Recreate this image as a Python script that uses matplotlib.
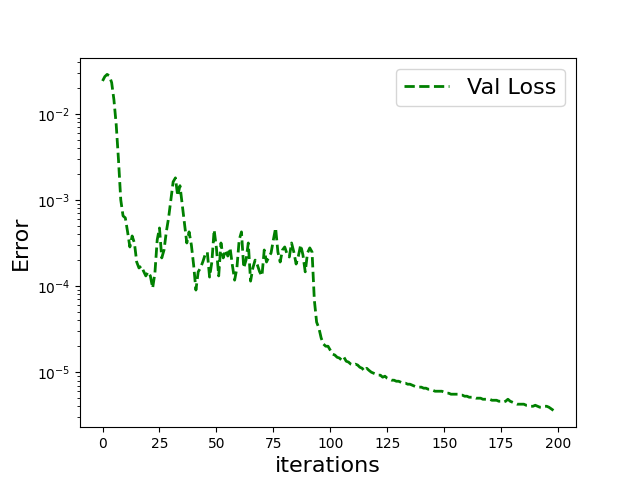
import numpy as np
import matplotlib
matplotlib.use('Agg')
import matplotlib.pyplot as plt

### Data
# iterations 0-40 : initial drop and first bump
loss_start = [2.40e-2, 2.70e-2, 2.86e-2, 2.75e-2, 2.30e-2, 1.45e-2, 7.45e-3, 2.92e-3, 1.0e-3, 6.52e-4,
              6.18e-4, 4.25e-4, 2.84e-4, 3.81e-4, 3.16e-4, 1.90e-4, 1.62e-4, 1.71e-4, 1.49e-4, 1.31e-4,
              1.46e-4, 1.31e-4, 9.48e-5, 1.42e-4, 3.43e-4, 4.72e-4, 2.12e-4, 2.62e-4, 4.25e-4, 6.18e-4,
              1.0e-3, 1.62e-3, 1.80e-3, 1.11e-3, 1.46e-3, 8.75e-4, 5.12e-4, 3.16e-4, 4.25e-4, 3.0e-4,
              1.75e-4]
# iterations 41-92 : noisy plateau
loss_plateau = [8.98e-5, 1.46e-4, 1.62e-4, 1.90e-4, 2.29e-4, 2.48e-4, 1.27e-4, 1.90e-4, 4.48e-4,
                2.77e-4, 1.31e-4, 3.16e-4, 2.12e-4, 2.62e-4, 2.23e-4, 2.77e-4, 1.75e-4, 1.17e-4, 1.62e-4,
                3.43e-4, 4.25e-4, 1.62e-4, 2.0e-4, 3.16e-4, 1.14e-4, 1.62e-4, 2.0e-4, 1.75e-4, 1.46e-4,
                1.31e-4, 2.62e-4, 1.90e-4, 2.17e-4, 2.42e-4, 3.43e-4, 4.72e-4, 2.48e-4, 1.90e-4, 2.62e-4,
                2.84e-4, 2.36e-4, 2.17e-4, 3.16e-4, 2.48e-4, 1.80e-4, 2.23e-4, 3.0e-4, 2.29e-4, 1.46e-4,
                2.42e-4, 2.77e-4, 2.48e-4]
# iterations 93-198 : second drop and slow decay
loss_tail = [6.87e-5, 3.81e-5, 3.25e-5, 2.49e-5, 2.12e-5, 2.0e-5, 2.0e-5, 1.80e-5, 1.62e-5, 1.58e-5,
             1.49e-5, 1.46e-5, 1.38e-5, 1.49e-5, 1.34e-5, 1.31e-5, 1.24e-5, 1.21e-5, 1.24e-5, 1.21e-5,
             1.14e-5, 1.11e-5, 1.03e-5, 1.11e-5, 1.05e-5, 1.0e-5, 9.73e-6, 9.48e-6, 9.23e-6, 9.23e-6,
             8.75e-6, 8.98e-6, 8.51e-6, 8.30e-6, 8.07e-6, 8.07e-6, 7.85e-6, 7.85e-6, 7.65e-6, 7.45e-6,
             7.45e-6, 7.25e-6, 7.25e-6, 7.06e-6, 6.87e-6, 6.70e-6, 6.70e-6, 6.70e-6, 6.52e-6, 6.52e-6,
             6.34e-6, 6.34e-6, 6.18e-6, 6.01e-6, 6.01e-6, 6.01e-6, 6.01e-6, 5.85e-6, 5.70e-6, 5.70e-6,
             5.55e-6, 5.55e-6, 5.55e-6, 5.55e-6, 5.41e-6, 5.41e-6, 5.26e-6, 5.26e-6, 5.12e-6, 5.12e-6,
             5.12e-6, 4.99e-6, 4.99e-6, 4.99e-6, 4.85e-6, 4.85e-6, 4.85e-6, 4.85e-6, 4.72e-6, 4.72e-6,
             4.72e-6, 4.60e-6, 4.60e-6, 4.48e-6, 4.60e-6, 4.85e-6, 4.60e-6, 4.48e-6, 4.36e-6, 4.25e-6,
             4.25e-6, 4.25e-6, 4.25e-6, 4.13e-6, 4.13e-6, 4.02e-6, 4.02e-6, 4.13e-6, 4.02e-6, 3.92e-6,
             3.92e-6, 4.02e-6, 4.02e-6, 3.92e-6, 3.75e-6, 3.60e-6]

val_loss = np.array(loss_start + loss_plateau + loss_tail)
iterations = np.arange(len(val_loss))

### graph
fig, ax = plt.subplots(figsize=(6.4, 4.8), dpi=100)
ax.plot(iterations, val_loss, color='green', linestyle='--', linewidth=2, label='Val Loss')
ax.set_yscale('log')
ax.set_xlabel('iterations', fontsize=16)
ax.set_ylabel('Error', fontsize=16)
ax.legend(loc='upper right', fontsize=16)

fig.savefig('out.png', dpi=100)
